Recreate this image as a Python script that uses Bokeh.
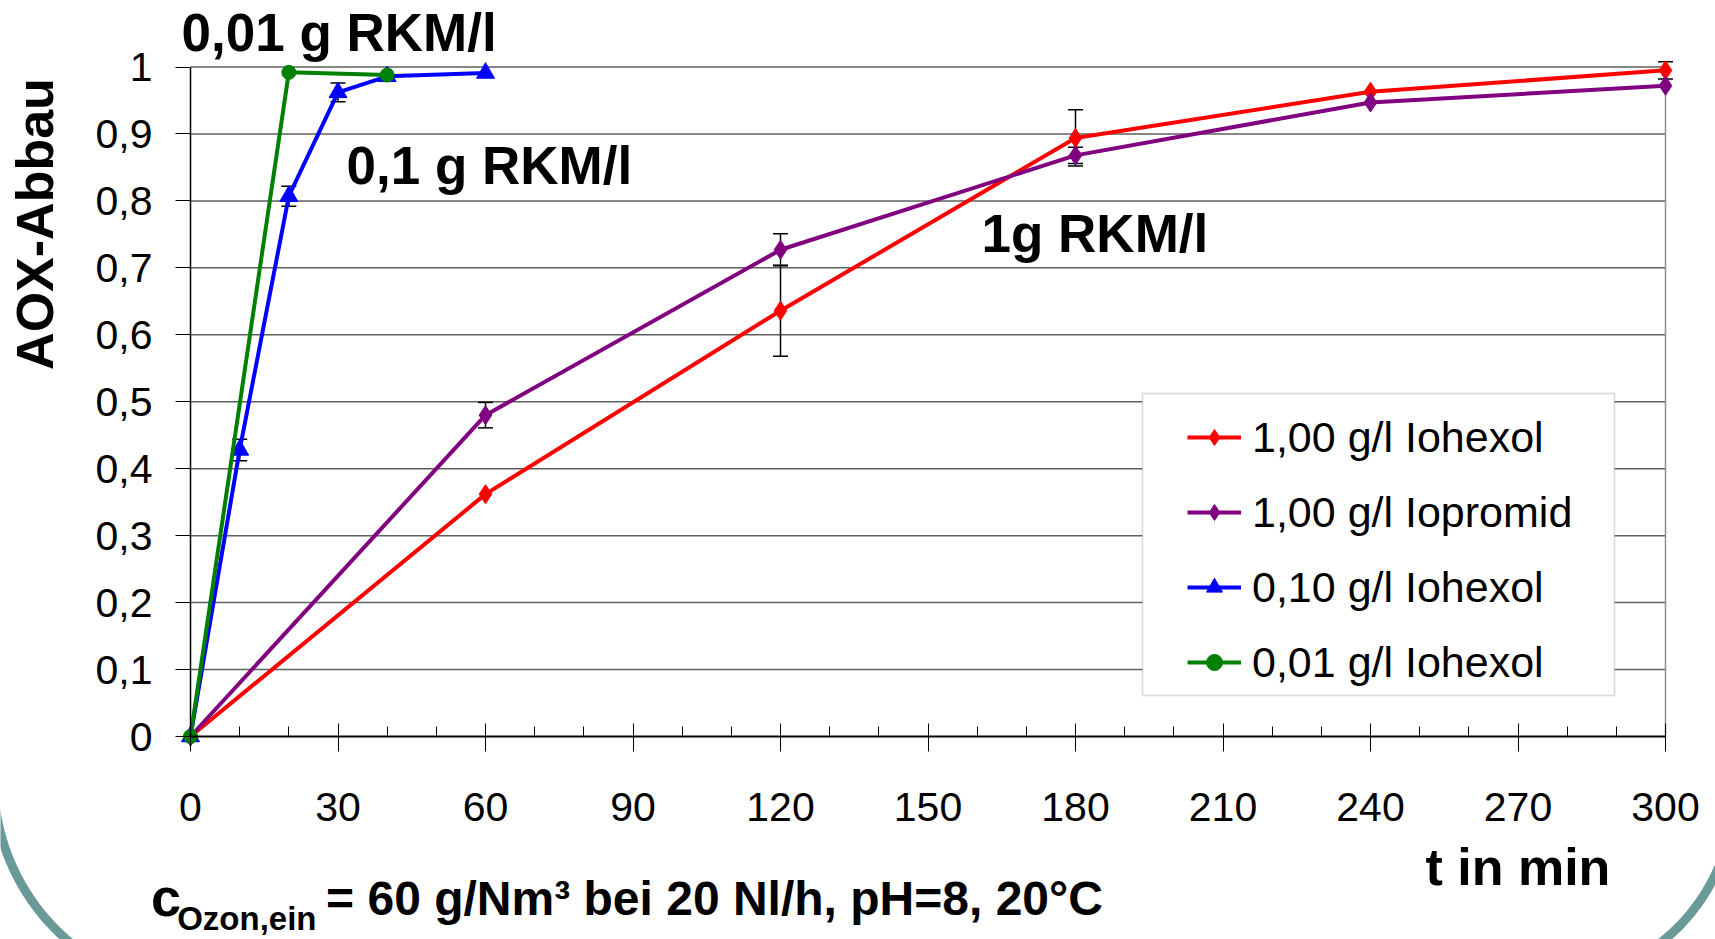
import numpy as np
from bokeh.plotting import figure
from bokeh.models import (Range1d, ColumnDataSource, Whisker, TeeHead, Label, Legend,
                          LegendItem, BoxAnnotation, SingleIntervalTicker, FixedTicker)
from bokeh.embed import file_html
from bokeh.resources import INLINE

# ---------------- data ----------------
t_1g = [0, 60, 120, 180, 240, 300]
iohexol_1g = [0.0, 0.362, 0.636, 0.894, 0.963, 0.995]
iohexol_1g_err = [0.0, 0.0, 0.068, 0.042, 0.0, 0.013]
iopromid_1g = [0.0, 0.480, 0.727, 0.868, 0.947, 0.972]
iopromid_1g_err = [0.0, 0.019, 0.024, 0.012, 0.0, 0.0]

t_01 = [0, 10, 20, 30, 40, 60]
iohexol_01 = [0.0, 0.428, 0.807, 0.962, 0.986, 0.991]
iohexol_01_err = [0.0, 0.016, 0.015, 0.014, 0.0, 0.0]

t_001 = [0, 20, 40]
iohexol_001 = [0.0, 0.992, 0.988]

series_labels = ["1,00 g/l Iohexol", "1,00 g/l Iopromid", "0,10 g/l Iohexol", "0,01 g/l Iohexol"]

x_ticks = [0, 30, 60, 90, 120, 150, 180, 210, 240, 270, 300]
y_ticks = [0.0, 0.1, 0.2, 0.3, 0.4, 0.5, 0.6, 0.7, 0.8, 0.9, 1.0]
y_tick_labels = ["0", "0,1", "0,2", "0,3", "0,4", "0,5", "0,6", "0,7", "0,8", "0,9", "1"]

FONT = "Liberation Sans"
TEAL = "#699a98"

# ---------------- canvas geometry (pixels) ----------------
W, H = 1715, 939
X0_PX, X300_PX = 190.0, 1665.0     # pixel columns of t=0 and t=300
Y0_PX, Y1_PX = 736.0, 66.5         # pixel rows of 0 and 1
KX = (X300_PX - X0_PX) / 300.0
KY = (Y0_PX - Y1_PX) / 1.0


def X(px):
    return (np.asarray(px, dtype=float) - X0_PX) / KX


def Y(py):
    return (Y0_PX - np.asarray(py, dtype=float)) / KY


p = figure(width=W, height=H, output_backend="svg", toolbar_location=None,
           x_range=Range1d(float(X(0)), float(X(W))),
           y_range=Range1d(float(Y(H)), float(Y(0))),
           min_border=0)
p.outline_line_color = None
p.background_fill_color = "white"
p.border_fill_color = "white"
p.xgrid.grid_line_color = None
p.ygrid.grid_line_color = None

# x axis, drawn at y = 0 inside the frame
xa = p.xaxis[0]
xa.fixed_location = 0
xa.bounds = (x_ticks[0], x_ticks[-1])
xa.ticker = SingleIntervalTicker(interval=30, num_minor_ticks=3)
xa.axis_line_color = "black"
xa.axis_line_width = 2
xa.major_tick_line_color = "black"
xa.minor_tick_line_color = "black"
xa.major_tick_in = 13
xa.major_tick_out = 15
xa.minor_tick_in = 10
xa.minor_tick_out = 0
xa.major_label_text_font = FONT
xa.major_label_text_font_size = "41px"
xa.major_label_text_color = "black"
xa.major_label_standoff = 41

# y axis, drawn at t = 0
ya = p.yaxis[0]
ya.fixed_location = 0
ya.bounds = (y_ticks[0], y_ticks[-1])
ya.ticker = FixedTicker(ticks=y_ticks)
ya.major_label_overrides = dict(zip(y_ticks, y_tick_labels))
ya.axis_line_color = "black"
ya.axis_line_width = 1.5
ya.major_tick_line_color = "black"
ya.major_tick_in = 0
ya.major_tick_out = 15
ya.minor_tick_line_color = None
ya.major_label_text_font = FONT
ya.major_label_text_font_size = "41px"
ya.major_label_text_color = "black"
ya.major_label_standoff = 23

# horizontal gridlines (from the y ticks) and right border
p.segment(x0=x_ticks[0], x1=x_ticks[-1], y0=y_ticks[1:], y1=y_ticks[1:],
          line_color="#5f5f5f", line_width=1.5, level="underlay")
p.segment(x0=x_ticks[-1], x1=x_ticks[-1], y0=y_ticks[0], y1=y_ticks[-1],
          line_color="#909090", line_width=1.5, level="underlay")

# decorative teal slide-border corners
def ring(cx, cy, r, a0, a1, w=9):
    a = np.radians(np.linspace(a0, a1, 90))
    ox, oy = cx + (r + w / 2) * np.cos(a), cy + (r + w / 2) * np.sin(a)
    ix, iy = cx + (r - w / 2) * np.cos(a[::-1]), cy + (r - w / 2) * np.sin(a[::-1])
    return list(X(np.concatenate([ox, ix]))), list(Y(np.concatenate([oy, iy])))


for c in [(207, 778, 214, 118, 172), (1540, 790, 194, 8, 80)]:
    xs, ys = ring(*c)
    p.patch(xs, ys, fill_color=TEAL, line_color=None, level="underlay")

# ---------------- series ----------------
specs = [
    (t_1g, iohexol_1g, iohexol_1g_err, "#ff0000", "diamond", 19),
    (t_1g, iopromid_1g, iopromid_1g_err, "#800080", "diamond", 19),
    (t_01, iohexol_01, iohexol_01_err, "#0000ff", "triangle", 18),
    (t_001, iohexol_001, None, "#008000", "circle", 14),
]
items = []
for (tx, vy, err, col, mk, sz), lab_ in zip(specs, series_labels):
    src = ColumnDataSource(dict(x=tx, y=vy))
    rl = p.line("x", "y", source=src, line_color=col, line_width=4)
    rs = p.scatter("x", "y", source=src, marker=mk, size=sz,
                   fill_color=col, line_color=col)
    items.append(LegendItem(label=lab_, renderers=[rl, rs]))
    if err is not None:
        xs = [a for a, e in zip(tx, err) if e > 0]
        up = [b + e for b, e in zip(vy, err) if e > 0]
        lo = [b - e for b, e in zip(vy, err) if e > 0]
        wsrc = ColumnDataSource(dict(base=xs, upper=up, lower=lo))
        w = Whisker(source=wsrc, base="base", upper="upper", lower="lower",
                    line_color="black", line_width=1.5,
                    upper_head=TeeHead(size=15, line_color="black", line_width=1.5),
                    lower_head=TeeHead(size=15, line_color="black", line_width=1.5))
        p.add_layout(w)

# legend with its frame
box = BoxAnnotation(left=float(X(1142)), right=float(X(1614)),
                    bottom=float(Y(695)), top=float(Y(393)),
                    fill_color="white", fill_alpha=1.0,
                    line_color="#808080", line_width=1.5)
p.add_layout(box)

legend = Legend(items=items, location=(1187, H - 687), orientation="vertical",
                glyph_width=54, glyph_height=40, label_height=50, spacing=25,
                padding=0, margin=0, label_standoff=11,
                border_line_color=None, background_fill_alpha=0,
                label_text_font=FONT, label_text_font_size="43px",
                label_text_color="black")
p.add_layout(legend)

# ---------------- texts (pixel positions of text anchors) ----------------
def lab(px, py, text, size, **kw):
    p.add_layout(Label(x=float(X(px)), y=float(Y(py)), text=text, text_font=FONT,
                       text_font_size=f"{size}px", text_font_style="bold",
                       text_color="black", text_baseline="middle", **kw))


def base_mid(baseline, size):
    return baseline - 0.387 * size


lab(181, base_mid(52, 52), "0,01 g RKM/l", 53)
lab(346, base_mid(186, 53), "0,1 g RKM/l", 53)
lab(981, base_mid(254, 53), "1g RKM/l", 53)
lab(34, 223.5, "AOX-Abbau", 52, angle=np.pi / 2, text_align="center")
lab(1425, base_mid(887, 52), "t  in min", 52)
lab(150.5, base_mid(917, 54), "c", 54)
lab(176.7, base_mid(931, 33), "Ozon,ein", 33)
lab(325.6, base_mid(917, 48), "= 60 g/Nm³ bei 20 Nl/h, pH=8, 20°C", 48)

open("out.html", "w").write(file_html(p, INLINE))
